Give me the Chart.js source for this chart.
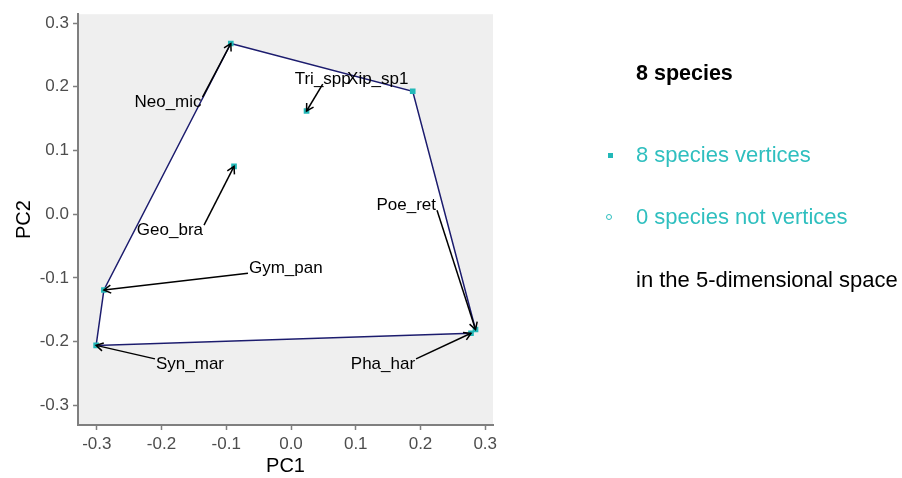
<!DOCTYPE html>
<html>
<head>
<meta charset="utf-8">
<script src="https://cdn.jsdelivr.net/npm/chart.js@4.4.0/dist/chart.umd.min.js"></script>
<style>
  body { margin: 0; background: #fff; font-family: "Liberation Sans", Arial, sans-serif; }
  #wrap { position: relative; width: 902px; height: 478px; }
  .leg { position: absolute; left: 636px; white-space: nowrap; font-size: 22px; line-height: 24px; }
  .mk { position: absolute; }
</style>
</head>
<body>
<div id="wrap">
  <canvas id="pca" width="902" height="478"></canvas>
  <div class="leg" style="top:61px;font-weight:bold;font-size:21.5px;color:#000">8 species</div>
  <div class="mk" style="left:608px;top:153px;width:5px;height:5px;background:#22b8b8"></div>
  <div class="leg" style="top:143px;color:#2fbfbf">8 species vertices</div>
  <div class="mk" style="left:606px;top:214px;width:4px;height:4px;border:1px solid #2fbfbf;border-radius:50%"></div>
  <div class="leg" style="top:205px;color:#2fbfbf">0 species not vertices</div>
  <div class="leg" style="top:268px;color:#000">in the 5-dimensional space</div>
</div>
<script>
// species coordinates on the first two PCs
const species = ["Neo_mic", "Geo_bra", "Tri_spp", "Xip_sp1", "Poe_ret", "Gym_pan", "Syn_mar", "Pha_har"];
const pc1 = [-0.093, -0.088, 0.024, 0.188, 0.285, -0.289, -0.301, 0.278];
const pc2 = [0.268, 0.075, 0.162, 0.193, -0.181, -0.119, -0.206, -0.187];

// where the repelled labels sit (data units)
const labelX = [-0.190, -0.187, 0.049, 0.134, 0.178, -0.008, -0.156, 0.142];
const labelY = [0.176, -0.025, 0.212, 0.212, 0.014, -0.085, -0.235, -0.235];

// convex hull order (indices into species)
const hull = [0, 3, 4, 7, 6, 5, 0];

const xTicks = [-0.3, -0.2, -0.1, 0.0, 0.1, 0.2, 0.3];
const yTicks = [-0.3, -0.2, -0.1, 0.0, 0.1, 0.2, 0.3];

const fmt = v => (Math.abs(v) < 1e-9 ? "0.0" : v.toFixed(1));

const panelBg = {
  id: 'panelBg',
  beforeDraw(chart) {
    const { ctx, chartArea: a } = chart;
    ctx.save();
    ctx.fillStyle = '#efefef';
    ctx.fillRect(a.left, a.top, a.right - a.left, a.bottom - a.top);
    ctx.restore();
  }
};

const repelLabels = {
  id: 'repelLabels',
  afterDatasetsDraw(chart) {
    const { ctx, scales: { x, y } } = chart;
    ctx.save();
    ctx.font = '17px "Liberation Sans", Arial, sans-serif';
    ctx.textAlign = 'center';
    ctx.textBaseline = 'middle';
    ctx.fillStyle = '#000';
    ctx.strokeStyle = '#000';
    ctx.lineWidth = 1.5;
    species.forEach((name, i) => {
      const lx = x.getPixelForValue(labelX[i]);
      const ly = y.getPixelForValue(labelY[i]);
      const px = x.getPixelForValue(pc1[i]);
      const py = y.getPixelForValue(pc2[i]);
      ctx.fillText(name, lx, ly);
      const hw = ctx.measureText(name).width / 2 + 1;
      const hh = 5;
      // segment starts at the nearest corner / edge-middle of the label box
      const sx = px < lx - hw ? lx - hw : (px > lx + hw ? lx + hw : lx);
      const sy = py < ly - hh ? ly - hh : (py > ly + hh ? ly + hh : ly);
      if (sx === lx && sy === ly) return;
      const len = Math.hypot(px - sx, py - sy);
      if (len < 10) return;
      ctx.beginPath();
      ctx.moveTo(sx, sy);
      ctx.lineTo(px, py);
      ctx.stroke();
      const ang = Math.atan2(py - sy, px - sx);
      const ah = 8, spread = Math.PI / 6;
      ctx.beginPath();
      ctx.moveTo(px - ah * Math.cos(ang - spread), py - ah * Math.sin(ang - spread));
      ctx.lineTo(px, py);
      ctx.lineTo(px - ah * Math.cos(ang + spread), py - ah * Math.sin(ang + spread));
      ctx.stroke();
    });
    ctx.restore();
  }
};

const axisFont = { family: '"Liberation Sans", Arial, sans-serif', size: 17 };
const titleFont = { family: '"Liberation Sans", Arial, sans-serif', size: 20 };

new Chart(document.getElementById('pca'), {
  type: 'scatter',
  data: {
    datasets: [
      {
        label: 'species',
        data: species.map((s, i) => ({ x: pc1[i], y: pc2[i] })),
        pointStyle: 'rect',
        pointRadius: 4,
        backgroundColor: '#22b8b8',
        borderWidth: 0,
        order: 0
      },
      {
        label: 'hull',
        data: hull.map(i => ({ x: pc1[i], y: pc2[i] })),
        showLine: true,
        fill: 'shape',
        backgroundColor: '#ffffff',
        borderColor: '#1c1c6e',
        borderWidth: 1.5,
        pointRadius: 0,
        order: 1
      }
    ]
  },
  options: {
    responsive: false,
    animation: false,
    layout: { padding: { left: 0, top: 8, right: 409, bottom: 0 } },
    plugins: { legend: { display: false }, tooltip: { enabled: false } },
    scales: {
      x: {
        type: 'linear',
        min: -0.329,
        max: 0.312,
        afterFit: s => { s.height = 53; },
        afterBuildTicks: s => { s.ticks = xTicks.map(v => ({ value: v })); },
        border: { color: '#7f7f7f', width: 2 },
        grid: { drawOnChartArea: false, tickLength: 5, color: '#7f7f7f', tickWidth: 1.5 },
        ticks: { color: '#4d4d4d', font: axisFont, padding: 4, callback: v => fmt(v), maxRotation: 0 },
        title: { display: true, text: 'PC1', color: '#000', font: titleFont, padding: { top: 0, bottom: 0 } }
      },
      y: {
        type: 'linear',
        min: -0.331,
        max: 0.314,
        afterFit: s => { s.width = 78; },
        afterBuildTicks: s => { s.ticks = yTicks.map(v => ({ value: v })); },
        border: { color: '#7f7f7f', width: 2 },
        grid: { drawOnChartArea: false, tickLength: 5, color: '#7f7f7f', tickWidth: 1.5 },
        ticks: { color: '#4d4d4d', font: axisFont, padding: 4, callback: v => fmt(v) },
        title: { display: true, text: 'PC2', color: '#000', font: titleFont, padding: { top: 12, bottom: 0 } }
      }
    }
  },
  plugins: [panelBg, repelLabels]
});
</script>
</body>
</html>
